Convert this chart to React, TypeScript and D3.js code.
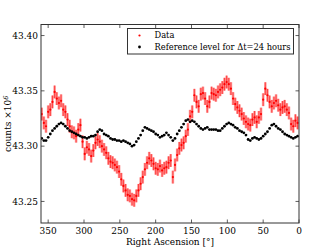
import React from 'react';
import * as d3 from 'd3';

// bin centres in right ascension (degrees), 3 degree bins
const raBins = d3.range(359, 0, -3);

const dataCounts = [
    43.329, 43.321, 43.318, 43.331, 43.333, 43.340, 43.349, 43.343, 43.339, 43.341,
    43.333, 43.331, 43.324, 43.318, 43.313, 43.312, 43.309, 43.315, 43.319, 43.304,
    43.293, 43.299, 43.297, 43.291, 43.296, 43.303, 43.306, 43.304, 43.300, 43.297,
    43.294, 43.289, 43.286, 43.285, 43.283, 43.281, 43.277, 43.270, 43.264, 43.260,
    43.256, 43.255, 43.252, 43.251, 43.255, 43.260, 43.266, 43.272, 43.279, 43.285,
    43.289, 43.287, 43.284, 43.280, 43.279, 43.282, 43.278, 43.280, 43.281, 43.285,
    43.287, 43.272, 43.283, 43.292, 43.298, 43.301, 43.303, 43.309, 43.315, 43.327,
    43.331, 43.346, 43.340, 43.336, 43.347, 43.348, 43.343, 43.336, 43.340, 43.348,
    43.347, 43.346, 43.349, 43.351, 43.353, 43.356, 43.358, 43.356, 43.352, 43.343,
    43.338, 43.335, 43.332, 43.329, 43.325, 43.322, 43.320, 43.319, 43.324, 43.326,
    43.322, 43.326, 43.329, 43.342, 43.352, 43.346, 43.340, 43.336, 43.339, 43.341,
    43.337, 43.333, 43.335, 43.336, 43.333, 43.330, 43.320, 43.318, 43.323, 43.321,
];

// reference level for a 24 hour window
const referenceCounts = [
    43.307, 43.305, 43.305, 43.308, 43.311, 43.314, 43.316, 43.318, 43.320, 43.321,
    43.320, 43.318, 43.316, 43.314, 43.313, 43.312, 43.311, 43.310, 43.309, 43.308,
    43.308, 43.307, 43.308, 43.309, 43.309, 43.310, 43.313, 43.315, 43.314, 43.311,
    43.310, 43.309, 43.307, 43.306, 43.306, 43.305, 43.305, 43.304, 43.305, 43.304,
    43.303, 43.302, 43.300, 43.301, 43.304, 43.307, 43.310, 43.314, 43.317, 43.316,
    43.315, 43.314, 43.313, 43.311, 43.310, 43.308, 43.309, 43.310, 43.312, 43.310,
    43.308, 43.305, 43.307, 43.311, 43.314, 43.317, 43.320, 43.323, 43.324, 43.322,
    43.323, 43.322, 43.320, 43.318, 43.316, 43.315, 43.316, 43.317, 43.315, 43.315,
    43.315, 43.315, 43.314, 43.314, 43.316, 43.318, 43.320, 43.321, 43.320, 43.319,
    43.317, 43.316, 43.314, 43.313, 43.312, 43.310, 43.306, 43.305, 43.307, 43.308,
    43.307, 43.306, 43.307, 43.309, 43.311, 43.313, 43.316, 43.319, 43.320, 43.318,
    43.316, 43.315, 43.313, 43.311, 43.310, 43.309, 43.308, 43.307, 43.308, 43.309,
];

const dataError = 0.0058;

const xTicks = [350, 300, 250, 200, 150, 100, 50, 0];
const yTicks = [43.25, 43.3, 43.35, 43.4];

const width = 332;
const height = 249;
const margin = { top: 24.5, right: 33, bottom: 26, left: 41 };
const font = '"DejaVu Serif", serif';

const App: React.FC = () => {
    const x = d3.scaleLinear().domain([360, 0]).range([margin.left, width - margin.right]);
    const y = d3.scaleLinear().domain([43.2305, 43.41]).range([height - margin.bottom, margin.top]);

    const x0 = margin.left;
    const x1 = width - margin.right;
    const y0 = height - margin.bottom;
    const y1 = margin.top;
    const tickLen = 3.5;
    const frame = '#333';

    return (
        <svg
            width={width}
            height={height}
            style={{ position: 'absolute', left: 0, top: 0, background: '#fff' }}
            fontFamily={font}
        >
            <defs>
                <clipPath id="plot-clip">
                    <rect x={x0} y={y1} width={x1 - x0} height={y0 - y1} />
                </clipPath>
            </defs>

            <g clipPath="url(#plot-clip)">
                {/* red data with error bars */}
                {raBins.map((ra, i) => (
                    <g key={'d' + ra}>
                        <rect
                            x={x(ra) - 1.3}
                            y={y(dataCounts[i] + dataError)}
                            width={2.6}
                            height={y(dataCounts[i] - dataError) - y(dataCounts[i] + dataError)}
                            fill="#ff0000"
                            opacity={0.38}
                        />
                        <line
                            x1={x(ra)}
                            x2={x(ra)}
                            y1={y(dataCounts[i] + dataError)}
                            y2={y(dataCounts[i] - dataError)}
                            stroke="#ff0000"
                            strokeWidth={0.6}
                        />
                        <circle cx={x(ra)} cy={y(dataCounts[i])} r={1.1} fill="#ff0000" />
                    </g>
                ))}

                {/* black reference level */}
                {raBins.map((ra, i) => (
                    <circle key={'r' + ra} cx={x(ra)} cy={y(referenceCounts[i])} r={1.4} fill="#000" />
                ))}
            </g>

            {/* frame */}
            <rect x={x0} y={y1} width={x1 - x0} height={y0 - y1} fill="none" stroke={frame} strokeWidth={1} />

            {/* x ticks, bottom and top */}
            {xTicks.map((t) => (
                <g key={'xt' + t}>
                    <line x1={x(t)} x2={x(t)} y1={y0} y2={y0 - tickLen} stroke={frame} strokeWidth={0.8} />
                    <line x1={x(t)} x2={x(t)} y1={y1} y2={y1 + tickLen} stroke={frame} strokeWidth={0.8} />
                    <text x={x(t)} y={y0 + 11} textAnchor="middle" fontSize={9} fill="#000">
                        {t}
                    </text>
                </g>
            ))}

            {/* y ticks, left and right */}
            {yTicks.map((t) => (
                <g key={'yt' + t}>
                    <line x1={x0} x2={x0 + tickLen} y1={y(t)} y2={y(t)} stroke={frame} strokeWidth={0.8} />
                    <line x1={x1} x2={x1 - tickLen} y1={y(t)} y2={y(t)} stroke={frame} strokeWidth={0.8} />
                    <text x={x0 - 3} y={y(t) + 3.2} textAnchor="end" fontSize={9} fill="#000">
                        {t.toFixed(2)}
                    </text>
                </g>
            ))}

            {/* axis labels */}
            <text x={(x0 + x1) / 2} y={height - 4} textAnchor="middle" fontSize={9} fill="#000">
                Right Ascension [°]
            </text>
            <text
                transform={`translate(11,${(y0 + y1) / 2}) rotate(-90)`}
                textAnchor="middle"
                fontSize={9}
                fill="#000"
            >
                counts ×10
                <tspan dy={-3.5} fontSize={6.5} fontStyle="italic">
                    6
                </tspan>
            </text>

            {/* legend */}
            <g transform="translate(127.5,28.5)">
                <rect x={0} y={0} width={166} height={25.5} fill="#fff" stroke={frame} strokeWidth={1} />
                <circle cx={12} cy={7} r={1.1} fill="#ff0000" />
                <text x={27} y={9.8} fontSize={8.3} fill="#000">
                    Data
                </text>
                <circle cx={12} cy={18.5} r={1.4} fill="#000" />
                <text x={27} y={21.3} fontSize={8.3} fill="#000">
                    Reference level for Δt=24 hours
                </text>
            </g>
        </svg>
    );
};

export default App;
